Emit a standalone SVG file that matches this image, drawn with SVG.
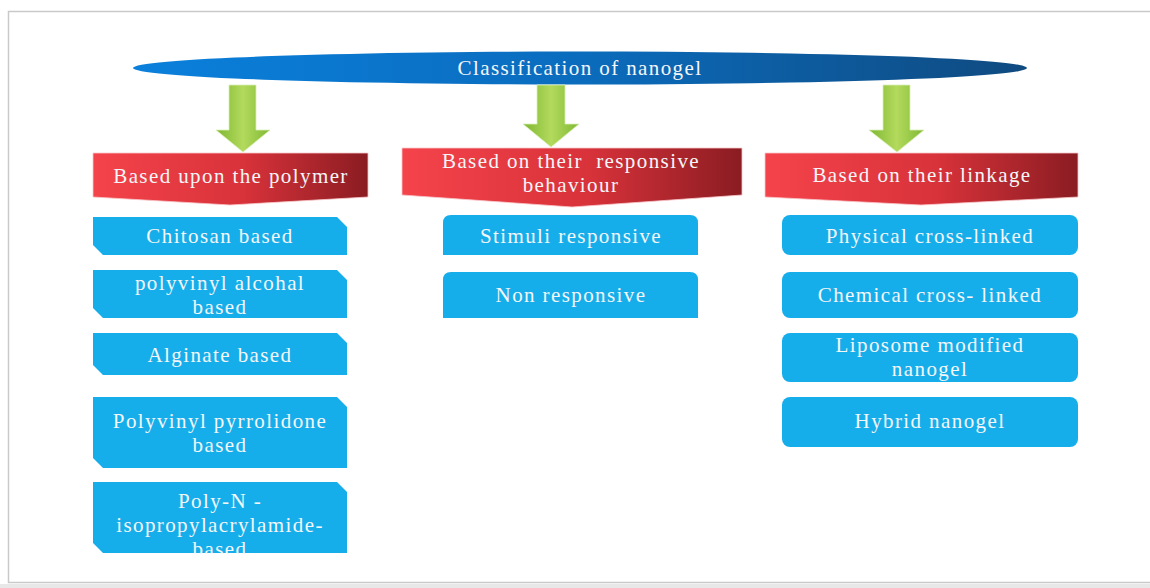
<svg xmlns="http://www.w3.org/2000/svg" width="1150" height="588" viewBox="0 0 1150 588">
<defs>
<linearGradient id="gBlue" x1="0" y1="0" x2="1" y2="0">
<stop offset="0" stop-color="#0a80dc"/><stop offset="0.5" stop-color="#0b6cbd"/><stop offset="1" stop-color="#0f4a80"/>
</linearGradient>
<linearGradient id="gRed" x1="0" y1="0" x2="1" y2="0">
<stop offset="0" stop-color="#f5434b"/><stop offset="0.55" stop-color="#d8323a"/><stop offset="1" stop-color="#8a1c22"/>
</linearGradient>
<linearGradient id="gGreen" x1="0" y1="0" x2="1" y2="0">
<stop offset="0" stop-color="#7db632"/><stop offset="0.5" stop-color="#b3da5c"/><stop offset="1" stop-color="#80b935"/>
</linearGradient>
<clipPath id="clip5"><rect x="90" y="480" width="262" height="74"/></clipPath>
</defs>
<style>
text{font-family:"Liberation Serif","Times New Roman",serif;font-size:21px;fill:#f4f6f8;text-anchor:middle;letter-spacing:1.4px;white-space:pre}
.box{fill:#16aeea}
.hdr{fill:url(#gRed);stroke:#f7c7c9;stroke-width:0.8}
.arr{fill:url(#gGreen);stroke:#d9efb5;stroke-width:0.8}
</style>
<rect x="0" y="0" width="1150" height="588" fill="#ffffff"/>
<rect x="8.5" y="11.5" width="1150" height="571" fill="#ffffff" stroke="#c9c9c9" stroke-width="1.5"/>
<rect x="0" y="584" width="1150" height="4" fill="#e8e8e8"/>

<g id="root">
<ellipse cx="580" cy="68" rx="447" ry="16.5" fill="url(#gBlue)"/>
<text x="580" y="75">Classification of nanogel</text>
</g>

<g id="connectors">
<path class="arr" d="M229 85 H256 V130 H270 L243 152 L216 130 H229 Z"/>
<path class="arr" d="M537 85 H565 V124 H579 L551 147 L523 124 H537 Z"/>
<path class="arr" d="M883 85 H910 V130 H924 L897 152 L869 130 H883 Z"/>
</g>

<g id="hdr-polymer">
<path class="hdr" d="M93 153 H368 V197 L230 205 L93 197 Z"/>
<text x="231" y="183">Based upon the polymer</text>
</g>
<g id="hdr-responsive">
<path class="hdr" d="M402 148 H742 V195 L572 207 L402 195 Z"/>
<text x="571" y="168">Based on their  responsive</text>
<text x="571" y="192">behaviour</text>
</g>
<g id="hdr-linkage">
<path class="hdr" d="M765 153 H1078 V197 L921 205 L765 197 Z"/>
<text x="922" y="182">Based on their linkage</text>
</g>

<g id="chitosan">
<path class="box" d="M93 217 H337 L347 227 V255 H103 L93 245 Z"/>
<text x="220" y="243">Chitosan based</text>
</g>
<g id="pva">
<path class="box" d="M93 270 H337 L347 280 V318 H103 L93 308 Z"/>
<text x="220" y="290">polyvinyl alcohal</text>
<text x="220" y="314">based</text>
</g>
<g id="alginate">
<path class="box" d="M93 333 H337 L347 343 V375 H103 L93 365 Z"/>
<text x="220" y="362">Alginate based</text>
</g>
<g id="pvp">
<path class="box" d="M93 397 H337 L347 407 V468 H103 L93 458 Z"/>
<text x="220" y="428">Polyvinyl pyrrolidone</text>
<text x="220" y="452">based</text>
</g>
<g id="pnipam">
<path class="box" d="M93 482 H337 L347 492 V553 H103 L93 543 Z"/>
<g clip-path="url(#clip5)">
<text x="220" y="508">Poly-N -</text>
<text x="220" y="532">isopropylacrylamide-</text>
<text x="220" y="556">based</text>
</g>
</g>

<g id="stimuli">
<path class="box" d="M443 255 V223 Q443 215 451 215 H690 Q698 215 698 223 V255 Z"/>
<text x="571" y="243">Stimuli responsive</text>
</g>
<g id="nonresp">
<path class="box" d="M443 318 V280 Q443 272 451 272 H690 Q698 272 698 280 V318 Z"/>
<text x="571" y="302">Non responsive</text>
</g>

<g id="physical">
<rect class="box" x="782" y="215" width="296" height="40" rx="8"/>
<text x="930" y="243">Physical cross-linked</text>
</g>
<g id="chemical">
<rect class="box" x="782" y="272" width="296" height="46" rx="8"/>
<text x="930" y="302">Chemical cross- linked</text>
</g>
<g id="liposome">
<rect class="box" x="782" y="333" width="296" height="49" rx="8"/>
<text x="930" y="352">Liposome modified</text>
<text x="930" y="376">nanogel</text>
</g>
<g id="hybrid">
<rect class="box" x="782" y="397" width="296" height="50" rx="8"/>
<text x="930" y="428">Hybrid nanogel</text>
</g>
</svg>
